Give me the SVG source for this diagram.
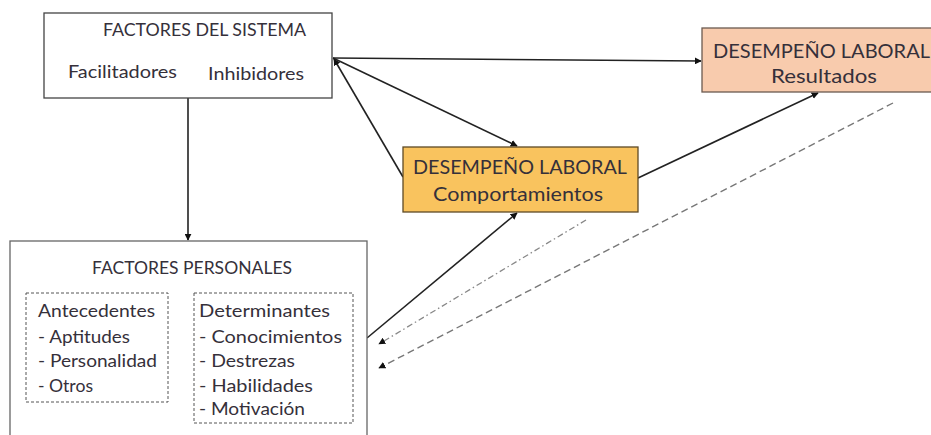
<svg xmlns="http://www.w3.org/2000/svg" width="931" height="435" viewBox="0 0 931 435">
<defs>
<style>
text{font-family:Lato,"Open Sans","Liberation Sans",sans-serif;fill:#35303a}
.box{fill:#fff;stroke:#444;stroke-width:1.3}
.dbox{fill:none;stroke:#555;stroke-width:1;stroke-dasharray:3 2}
.ln{fill:none;stroke:#222;stroke-width:1.6}
.dd{fill:none;stroke:#888;stroke-width:1.3;stroke-dasharray:6 3 1.5 3}
.ds{fill:none;stroke:#777;stroke-width:1.4;stroke-dasharray:7 4}
.t20{font-size:18px}
.t22{font-size:20px}
.t17{font-size:17px}
</style>
<marker id="ah" viewBox="0 0 10 10" refX="9" refY="5" markerWidth="7" markerHeight="7" markerUnits="userSpaceOnUse" orient="auto">
<path d="M0,0 L10,5 L0,10 z" fill="#111"/>
</marker>
</defs>

<g id="connectors">
<line class="ln" x1="333" y1="58" x2="701" y2="61" marker-end="url(#ah)"/>
<line class="ln" x1="333" y1="58" x2="517" y2="146" marker-end="url(#ah)"/>
<line class="ln" x1="403" y1="177" x2="334" y2="59" marker-end="url(#ah)"/>
<line class="ln" x1="188" y1="98" x2="188" y2="240" marker-end="url(#ah)"/>
<line class="ln" x1="638" y1="178" x2="818" y2="93" marker-end="url(#ah)"/>
<line class="ln" x1="367" y1="338" x2="517" y2="213" marker-end="url(#ah)"/>
<line class="dd" x1="586" y1="220" x2="379" y2="344" marker-end="url(#ah)"/>
<line class="ds" x1="893" y1="103" x2="379" y2="368" marker-end="url(#ah)"/>
</g>

<g id="factores-sistema">
<rect class="box" x="44" y="13" width="288" height="85"/>
<text class="t20" x="103" y="36" textLength="203" lengthAdjust="spacingAndGlyphs">FACTORES DEL SISTEMA</text>
<text class="t20" x="68" y="78" textLength="109" lengthAdjust="spacingAndGlyphs">Facilitadores</text>
<text class="t20" x="208" y="80" textLength="96" lengthAdjust="spacingAndGlyphs">Inhibidores</text>
</g>

<g id="desempeno-resultados">
<rect x="702" y="28" width="232" height="64" fill="#F8CBAD" stroke="#6b5a50" stroke-width="1.3"/>
<text class="t22" x="713" y="58" textLength="217" lengthAdjust="spacingAndGlyphs">DESEMPEÑO LABORAL</text>
<text class="t22" x="771" y="83" textLength="106" lengthAdjust="spacingAndGlyphs">Resultados</text>
</g>

<g id="desempeno-comportamientos">
<rect x="403" y="147" width="235" height="65" fill="#F9C35E" stroke="#5e4a26" stroke-width="1.3"/>
<text class="t22" x="413" y="174" textLength="214" lengthAdjust="spacingAndGlyphs">DESEMPEÑO LABORAL</text>
<text class="t22" x="433" y="201" textLength="170" lengthAdjust="spacingAndGlyphs">Comportamientos</text>
</g>

<g id="factores-personales">
<rect x="10" y="241" width="357" height="200" fill="#fff" stroke="#666" stroke-width="1.3"/>
<text class="t17" x="92" y="274" textLength="200" lengthAdjust="spacingAndGlyphs">FACTORES PERSONALES</text>
<g id="antecedentes">
<rect class="dbox" x="26" y="293" width="142" height="109"/>
<text class="t17" x="38" y="317" textLength="117" lengthAdjust="spacingAndGlyphs">Antecedentes</text>
<text class="t17" x="38" y="343" textLength="92" lengthAdjust="spacingAndGlyphs">- Aptitudes</text>
<text class="t17" x="38" y="367" textLength="119" lengthAdjust="spacingAndGlyphs">- Personalidad</text>
<text class="t17" x="38" y="392" textLength="55" lengthAdjust="spacingAndGlyphs">- Otros</text>
</g>
<g id="determinantes">
<rect class="dbox" x="194" y="293" width="159" height="130"/>
<text class="t17" x="199" y="317" textLength="131" lengthAdjust="spacingAndGlyphs">Determinantes</text>
<text class="t17" x="199" y="343" textLength="143" lengthAdjust="spacingAndGlyphs">- Conocimientos</text>
<text class="t17" x="199" y="367" textLength="96" lengthAdjust="spacingAndGlyphs">- Destrezas</text>
<text class="t17" x="199" y="392" textLength="114" lengthAdjust="spacingAndGlyphs">- Habilidades</text>
<text class="t17" x="199" y="415" textLength="106" lengthAdjust="spacingAndGlyphs">- Motivación</text>
</g>
</g>
</svg>
